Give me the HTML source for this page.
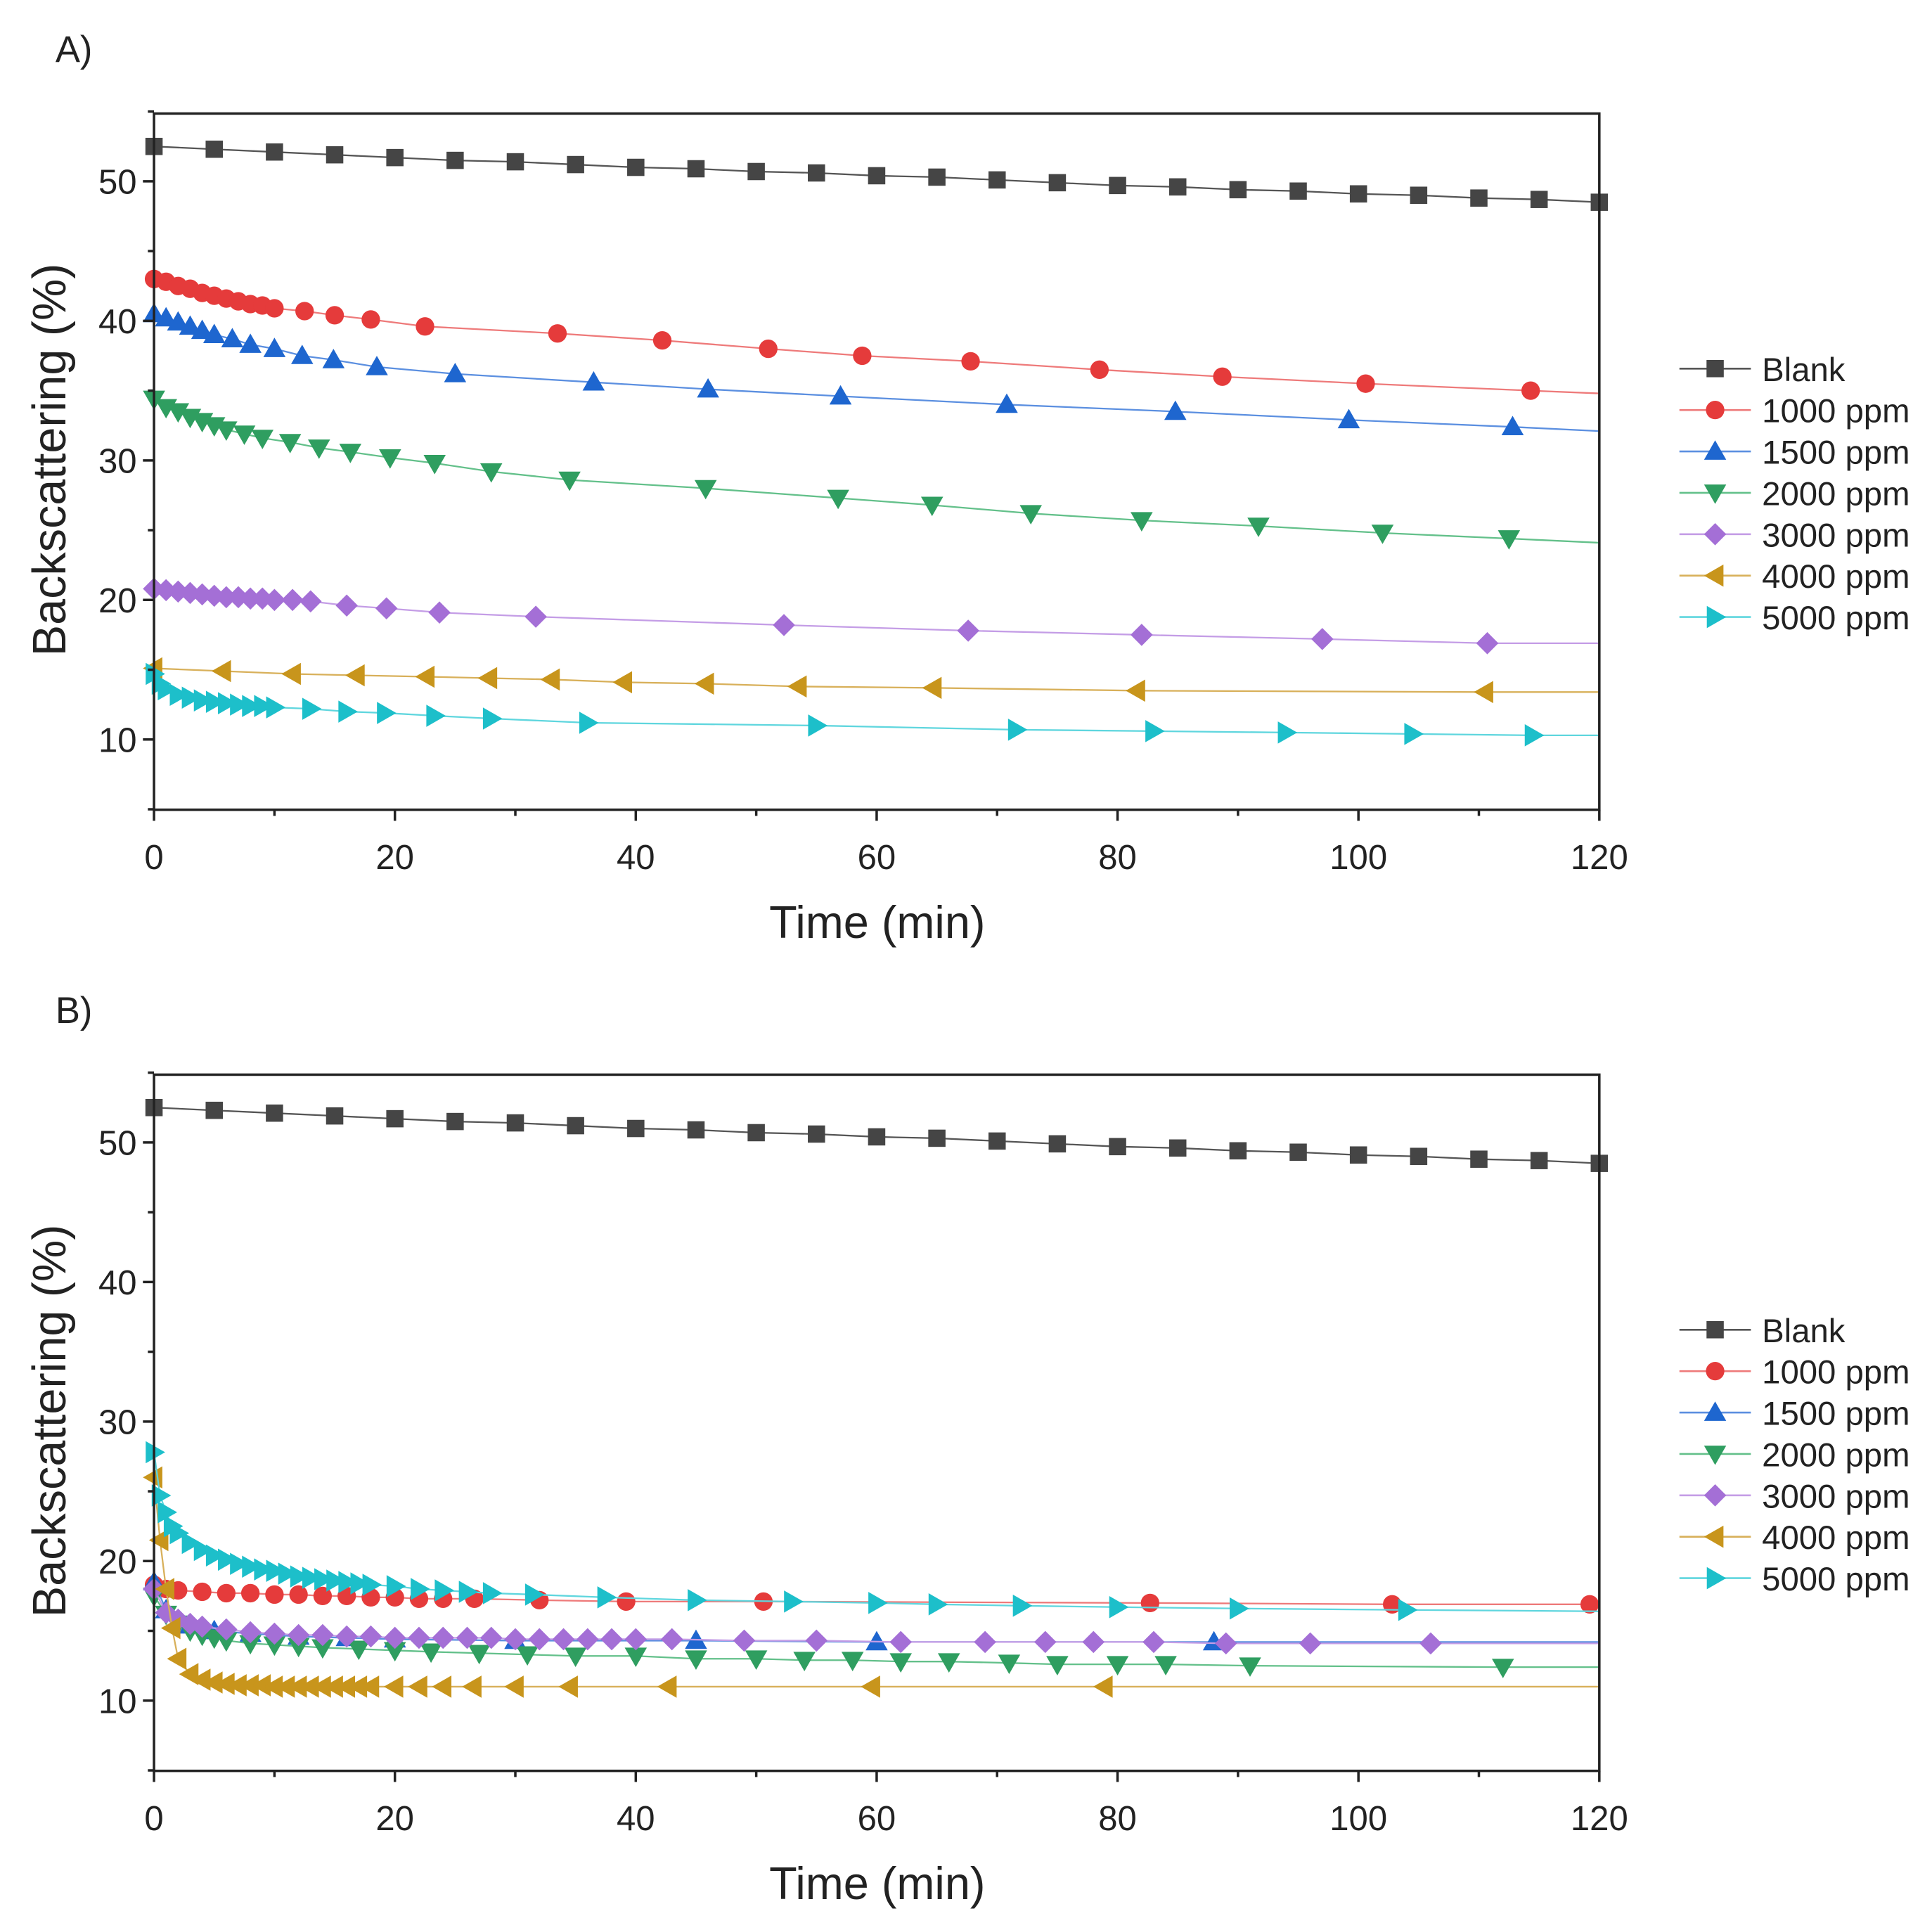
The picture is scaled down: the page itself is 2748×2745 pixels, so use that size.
<!DOCTYPE html>
<html><head><meta charset="utf-8"><style>
html,body{margin:0;padding:0;background:#fff}
svg{display:block}
text{font-family:"Liberation Sans",sans-serif;fill:#222}
</style></head><body>
<svg id="fig" width="2748" height="2745" viewBox="0 0 1568 1566" xmlns="http://www.w3.org/2000/svg"></svg>
<script>
const seriesNames=["Blank","1000 ppm","1500 ppm","2000 ppm","3000 ppm","4000 ppm","5000 ppm"];
const xTicks=[0,20,40,60,80,100,120];
const yTicks=[10,20,30,40,50];
const blankX=[0,5,10,15,20,25,30,35,40,45,50,55,60,65,70,75,80,85,90,95,100,105,110,115,120];
const blankY=[52.5,52.3,52.1,51.9,51.7,51.5,51.4,51.2,51.0,50.9,50.7,50.6,50.4,50.3,50.1,49.9,49.7,49.6,49.4,49.3,49.1,49.0,48.8,48.7,48.5];
// Panel A
const a1000X=[0,1,2,3,4,5,6,7,8,9,10,12.5,15,18,22.5,33.5,42.2,51,58.8,67.8,78.5,88.7,100.6,114.3];
const a1000Y=[43.0,42.8,42.5,42.3,42.0,41.8,41.6,41.4,41.2,41.1,40.9,40.7,40.4,40.1,39.6,39.1,38.6,38.0,37.5,37.1,36.5,36.0,35.5,35.0];
const a1500X=[0,1,2,3,4,5,6.5,8,10,12.3,14.9,18.5,25,36.5,46,57,70.8,84.8,99.2,112.8];
const a1500Y=[40.5,40.2,39.9,39.6,39.3,39.0,38.7,38.3,38.0,37.5,37.2,36.7,36.2,35.6,35.1,34.6,34.0,33.5,32.9,32.4];
const a2000X=[0,1,2,3,4,5,6,7.5,9,11.3,13.7,16.3,19.6,23.3,28,34.5,45.8,56.8,64.6,72.8,82,91.7,102,112.5];
const a2000Y=[34.4,33.8,33.5,33.1,32.8,32.5,32.2,31.9,31.6,31.3,30.9,30.6,30.2,29.8,29.2,28.6,28.0,27.3,26.8,26.2,25.7,25.3,24.8,24.4];
const a3000X=[0,1,2,3,4,5,6,7,8,9,10,11.5,13,16,19.3,23.7,31.7,52.3,67.6,82,97,110.7];
const a3000Y=[20.8,20.7,20.6,20.5,20.4,20.3,20.2,20.2,20.1,20.1,20.0,20.0,19.9,19.6,19.4,19.1,18.8,18.2,17.8,17.5,17.2,16.9];
const a4000X=[0,5.7,11.5,16.8,22.6,27.8,33,39,45.8,53.5,64.7,81.6,110.5];
const a4000Y=[15.1,14.9,14.7,14.6,14.5,14.4,14.3,14.1,14.0,13.8,13.7,13.5,13.4];
const a5000X=[0,0.5,1,2,3,4,5,6,7,8,9,10,13,16,19.2,23.3,28,36,55,71.6,83,94,104.5,114.5];
const a5000Y=[14.7,14.0,13.6,13.2,13.0,12.8,12.7,12.6,12.5,12.4,12.4,12.3,12.2,12.0,11.9,11.7,11.5,11.2,11.0,10.7,10.6,10.5,10.4,10.3];
const aEnd=[48.5,34.8,32.1,24.1,16.9,13.4,10.3];
// Panel B
const b1000X=[0,1,2,4,6,8,10,12,14,16,18,20,22,24,26.6,32,39.2,50.6,82.7,102.8,119.2];
const b1000Y=[18.3,18.0,17.9,17.8,17.7,17.7,17.6,17.6,17.5,17.5,17.4,17.4,17.3,17.3,17.3,17.2,17.1,17.1,17.0,16.9,16.9];
const b1500X=[0,1,2,3,5,8,12,16,20,30,45,60,88];
const b1500Y=[18.5,16.5,15.8,15.4,15.0,14.8,14.6,14.5,14.4,14.3,14.3,14.2,14.2];
const b2000X=[0,1,2,3,4,5,6,8,10,12,14,17,20,23,27,31,35,40,45,50,54,58,62,66,71,75,80,84,91,112];
const b2000Y=[17.5,16.2,15.5,15.0,14.7,14.5,14.3,14.1,14.0,13.9,13.8,13.7,13.6,13.5,13.4,13.3,13.2,13.2,13.0,13.0,12.9,12.9,12.8,12.8,12.7,12.6,12.6,12.6,12.5,12.4];
const b3000X=[0,1,2,3,4,6,8,10,12,14,16,18,20,22,24,26,28,30,32,34,36,38,40,43,49,55,62,69,74,78,83,89,96,106];
const b3000Y=[18.0,16.3,15.8,15.5,15.3,15.1,14.9,14.8,14.7,14.7,14.6,14.6,14.5,14.5,14.5,14.5,14.5,14.4,14.4,14.4,14.4,14.4,14.4,14.4,14.3,14.3,14.2,14.2,14.2,14.2,14.2,14.1,14.1,14.1];
const b4000X=[0,0.5,1,1.5,2,3,4,5,6,7,8,9,10,11,12,13,14,15,16,17,18,20,22,24,26.5,30,34.5,42.7,59.6,78.9];
const b4000Y=[26,21.5,18,15.2,13,11.9,11.5,11.3,11.2,11.1,11.1,11.1,11.0,11.0,11.0,11.0,11.0,11.0,11.0,11.0,11.0,11.0,11.0,11.0,11.0,11.0,11.0,11.0,11.0,11.0];
const b5000X=[0,0.5,1,1.5,2,3,4,5,6,7,8,9,10,11,12,13,14,15,16,17,18,20,22,24,26,28,31.5,37.5,45,53,60,65,72,80,90,104];
const b5000Y=[27.8,24.7,23.5,22.5,22.0,21.3,20.8,20.4,20.1,19.8,19.6,19.4,19.3,19.1,18.9,18.8,18.7,18.6,18.5,18.4,18.3,18.2,18.0,17.9,17.8,17.7,17.6,17.4,17.2,17.1,17.0,16.9,16.8,16.7,16.6,16.5];
const bEnd=[48.5,16.9,14.2,12.4,14.1,11.0,16.4];

const colors=["#454545","#e53b3b","#1e66cf","#2f9e60","#a46fd6","#c8951c","#1dbfca"];
const lineColors=["#555","#ee7a7a","#5b8fe0","#63c08a","#c49de6","#d8b05a","#5fd6de"];
const markers=["square","circle","up","down","diamond","left","right"];

const NS="http://www.w3.org/2000/svg";
const svg=document.getElementById("fig");
function el(tag,attrs,parent){const e=document.createElementNS(NS,tag);for(const k in attrs)e.setAttribute(k,attrs[k]);(parent||svg).appendChild(e);return e;}

function marker(g,type,cx,cy,color){
  let e;
  if(type==="square")e=el("rect",{x:cx-7,y:cy-7,width:14,height:14,fill:color},g);
  else if(type==="circle")e=el("circle",{cx:cx,cy:cy,r:7.5,fill:color},g);
  else{
    const s=9;let p;
    if(type==="up")p=[[cx,cy-s],[cx+s,cy+s*0.75],[cx-s,cy+s*0.75]];
    if(type==="down")p=[[cx,cy+s],[cx+s,cy-s*0.75],[cx-s,cy-s*0.75]];
    if(type==="left")p=[[cx-s,cy],[cx+s*0.75,cy-s],[cx+s*0.75,cy+s]];
    if(type==="right")p=[[cx+s,cy],[cx-s*0.75,cy-s],[cx-s*0.75,cy+s]];
    if(type==="diamond")p=[[cx,cy-9],[cx+9,cy],[cx,cy+9],[cx-9,cy]];
    e=el("polygon",{points:p.map(q=>q.join(",")).join(" "),fill:color},g);
  }
  
  
}

function panel(label,top,data,ends,tag){
  const L=125,R=1298,T=top,B=top+565;
  const y50=top+55,y10=top+508;
  const sx=v=>L+(v/120)*(R-L);
  const sy=v=>y10-(v-10)*(y10-y50)/40;
  const g=el("g",{});
  
  
  const pl=el("text",{x:45,y:top-42,"font-size":30},g);pl.textContent=label;
  
  data.forEach((d,i)=>{
    const sg=el("g",{},g);
    
    
    const pts=d[0].map((x,j)=>sx(x)+","+sy(d[1][j]));
    if(d[0][d[0].length-1]<120)pts.push(sx(120)+","+sy(ends[i]));
    el("polyline",{points:pts.join(" "),fill:"none",stroke:lineColors[i],"stroke-width":1.3},sg);
    d[0].forEach((x,j)=>marker(sg,markers[i],sx(x),sy(d[1][j]),colors[i]));
  });
  const fr=el("rect",{x:L,y:T,width:R-L,height:B-T,fill:"none",stroke:"#222","stroke-width":2},g);
  
  for(let v=0;v<=120;v+=10){const x=sx(v);const major=v%20===0;
    el("line",{x1:x,y1:B,x2:x,y2:B+(major?9:5),stroke:"#222","stroke-width":2},g);}
  xTicks.forEach(v=>{const t=el("text",{x:sx(v),y:B+48,"font-size":28,"text-anchor":"middle"},g);t.textContent=v;
    });
  for(let v=5;v<=55;v+=5){const y=sy(v);const major=v%10===0;
    el("line",{x1:L,y1:y,x2:L-(major?9:5),y2:y,stroke:"#222","stroke-width":2},g);}
  yTicks.forEach(v=>{const t=el("text",{x:L-14,y:sy(v)+10,"font-size":28,"text-anchor":"end"},g);t.textContent=v;
    });
  const xt=el("text",{x:712,y:B+104,"font-size":37,"text-anchor":"middle"},g);xt.textContent="Time (min)";
  
  const cy=T+281;
  const yt=el("text",{x:0,y:0,"font-size":38,"text-anchor":"middle",transform:`translate(53,${cy}) rotate(-90)`},g);yt.textContent="Backscattering (%)";
  
  const lg=el("g",{},g);
  
  const ly0=top+207;
  seriesNames.forEach((n,i)=>{
    const y=ly0+i*33.6;
    const eg=el("g",{},lg);
    
    el("line",{x1:1363,y1:y,x2:1421,y2:y,stroke:lineColors[i],"stroke-width":1.5},eg);
    marker(eg,markers[i],1392,y,colors[i]);
    const t=el("text",{x:1430,y:y+10,"font-size":27},eg);t.textContent=n;
  });
}
panel("A)",92,[[blankX,blankY],[a1000X,a1000Y],[a1500X,a1500Y],[a2000X,a2000Y],[a3000X,a3000Y],[a4000X,a4000Y],[a5000X,a5000Y]],aEnd,"a");
panel("B)",872,[[blankX,blankY],[b1000X,b1000Y],[b1500X,b1500Y],[b2000X,b2000Y],[b3000X,b3000Y],[b4000X,b4000Y],[b5000X,b5000Y]],bEnd,"b");
</script>
</body></html>
